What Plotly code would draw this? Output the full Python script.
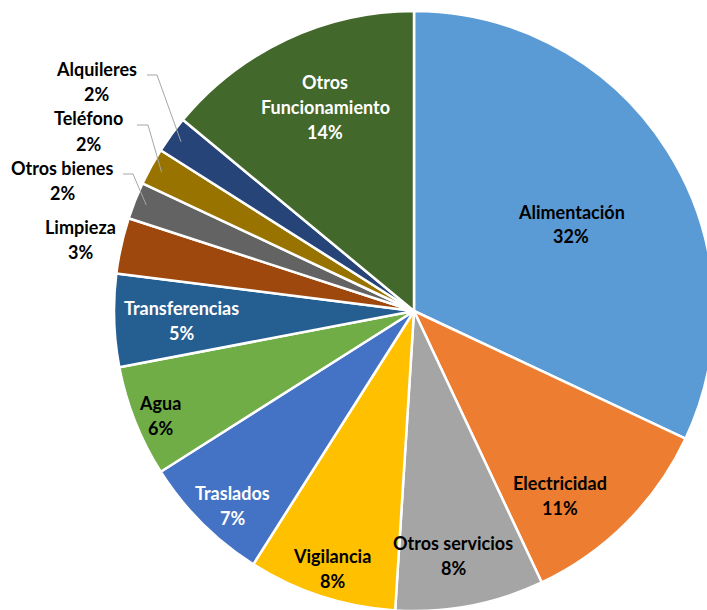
import math
import plotly.graph_objects as go

# Budget shares by expense category (percent)
categories = ["Alimentación", "Electricidad", "Otros servicios", "Vigilancia",
              "Traslados", "Agua", "Transferencias", "Limpieza",
              "Otros bienes", "Teléfono", "Alquileres", "Otros Funcionamiento"]
shares = [32, 11, 8, 8, 7, 6, 5, 3, 2, 2, 2, 14]

colors = ["#5B9BD5", "#ED7D31", "#A5A5A5", "#FFC000", "#4472C4", "#70AD47",
          "#255E91", "#9E480E", "#636363", "#997300", "#264478", "#43682B"]
text_colors = ["black", "black", "black", "black", "white", "black",
               "white", "black", "black", "black", "black", "white"]
# name split across lines for the label
label_lines = [["Alimentación"], ["Electricidad"], ["Otros servicios"], ["Vigilancia"],
               ["Traslados"], ["Agua"], ["Transferencias"], ["Limpieza"],
               ["Otros bienes"], ["Teléfono"], ["Alquileres"], ["Otros", "Funcionamiento"]]
# label centres in pixels
label_pos = [(571, 224), (560, 495), (453, 555), (332, 568), (232, 505), (160, 415),
             (181, 320), (80, 239), (62, 180), (88, 131), (97, 81), (325, 107)]
# leader line elbows (start, bend) for labels placed outside the pie
leaders = {8: ((123, 174), (133, 174)), 9: ((137, 125), (148, 125)), 10: ((147, 75), (157, 75))}

W, H = 714, 612
CX, CY, R = 414, 311, 300
LINE = 25
FONT = "Lato"


def px(x):
    return x / W


def py(y):
    return 1 - y / H


fig = go.Figure(go.Pie(
    labels=categories, values=shares, sort=False, direction="clockwise", rotation=0,
    marker=dict(colors=colors, line=dict(color="white", width=2.5)),
    textinfo="none", hoverinfo="label+percent", showlegend=False,
    domain=dict(x=[px(CX - R), px(CX + R)], y=[py(CY + R), py(CY - R)]),
))

annotations = []
shapes = []
total = sum(shares)
cum = 0
for i, v in enumerate(shares):
    mid = (cum + v / 2) / total * 2 * math.pi
    cum += v
    lines = label_lines[i] + [f"{round(v / total * 100)}%"]
    x0, y0 = label_pos[i]
    top = y0 - LINE * (len(lines) - 1) / 2
    for k, t in enumerate(lines):
        annotations.append(dict(
            x=px(x0), y=py(top + k * LINE), xref="paper", yref="paper", text=t,
            showarrow=False, xanchor="center", yanchor="middle",
            font=dict(family=FONT, size=18, color=text_colors[i], weight="bold"),
        ))
    if i in leaders:
        (sx, sy), (bx, by) = leaders[i]
        ex = CX + 0.96 * R * math.sin(mid)
        ey = CY - 0.96 * R * math.cos(mid)
        shapes.append(dict(
            type="path", xref="paper", yref="paper",
            path=f"M {px(sx)} {py(sy)} L {px(bx)} {py(by)} L {px(ex)} {py(ey)}",
            line=dict(color="#A6A6A6", width=1),
        ))

fig.update_layout(
    width=W, height=H, autosize=False,
    margin=dict(l=0, r=0, t=0, b=0),
    paper_bgcolor="white", plot_bgcolor="white",
    annotations=annotations, shapes=shapes,
)

fig.write_html(
    "out.html",
    post_script="document.body.style.margin='0';document.body.style.overflow='hidden';"
                "document.documentElement.style.overflow='hidden';",
)
